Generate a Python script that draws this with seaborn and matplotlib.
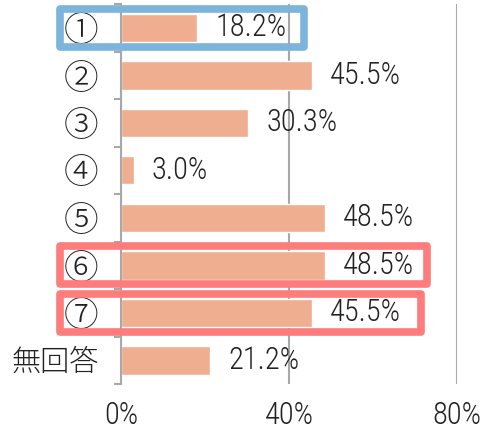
import matplotlib
matplotlib.use("Agg")
import matplotlib.pyplot as plt
import seaborn as sns
import pandas as pd
from matplotlib.patches import Rectangle
from matplotlib.ticker import FixedLocator

categories = ["①", "②", "③", "④", "⑤", "⑥", "⑦", "無回答"]
values = [18.2, 45.5, 30.3, 3.0, 48.5, 48.5, 45.5, 21.2]
xTicks = [0, 40, 80]
xTickLabels = ["0%", "40%", "80%"]

# highlighted rows : (category, frame colour, right edge of frame in % units)
highlights = [
    ("①", "#7DB4DC", 43.5),
    ("⑥", "#FF7C7C", 72.8),
    ("⑦", "#FF7C7C", 71.4),
]

sns.set_theme(style = "white")
plt.rcParams["font.family"] = ["Roboto Condensed", "Noto Sans CJK JP", "DejaVu Sans"]
plt.rcParams["font.weight"] = 300

barColor = "#EEAE8F"
gridColor = "#A8A8A8"
textColor = "#222222"

dataFrame = pd.DataFrame({"category": categories, "value": values})

fig = plt.figure(figsize = (4.89, 4.30), dpi = 100)
ax = fig.add_axes([121 / 489, 46 / 430, 336 / 489, 380 / 430])

sns.barplot(data = dataFrame, x = "value", y = "category", orient = "h",
            color = barColor, width = 0.6, saturation = 1, ax = ax, zorder = 3)

ax.set_xlim(0, 80)
ax.set_ylim(len(categories) - 0.5, -0.5)
ax.set_xticks(xTicks)
ax.set_xticklabels(xTickLabels)
ax.set_xlabel("")
ax.set_ylabel("")

ax.grid(axis = "x", color = gridColor, linewidth = 1.5, zorder = 0)
ax.grid(axis = "y", visible = False)
for side in ["top", "right", "bottom"] :
    ax.spines[side].set_visible(False)
ax.spines["left"].set_color(gridColor)
ax.spines["left"].set_linewidth(1.5)
ax.spines["left"].set_zorder(4)

ax.tick_params(axis = "x", length = 0, pad = 12, labelsize = 22, labelcolor = textColor)
ax.tick_params(axis = "y", which = "major", length = 0, pad = 16, labelsize = 21, labelcolor = textColor)
ax.yaxis.set_minor_locator(FixedLocator([i - 0.5 for i in range(len(categories) + 1)]))
ax.tick_params(axis = "y", which = "minor", left = True, length = 5, width = 1.5, color = gridColor)

# circled numbers come out a bit small in the CJK font
for lbl in ax.get_yticklabels() :
    if lbl.get_text() != "無回答" :
        lbl.set_fontsize(25)

for idx, val in enumerate(values) :
    ax.annotate(f"{val:.1f}%", xy = (val, idx), xytext = (13, 0),
                textcoords = "offset points", ha = "left", va = "center",
                fontsize = 22, color = textColor, zorder = 5)

for cat, frameColor, rightEdge in highlights :
    pos = categories.index(cat)
    left = -14.5
    frame = Rectangle((left, pos - 0.4), rightEdge - left, 0.8,
                      fill = False, edgecolor = frameColor, linewidth = 5.5,
                      joinstyle = "round", clip_on = False, zorder = 6)
    ax.add_patch(frame)

fig.savefig("out.png", dpi = 100)
